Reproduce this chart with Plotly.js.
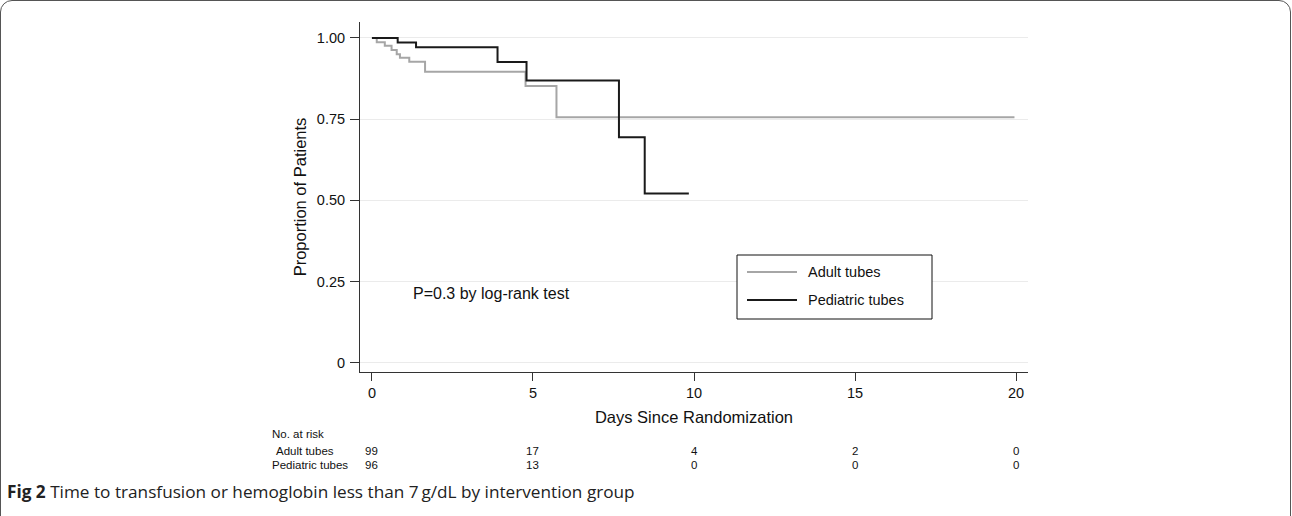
<!DOCTYPE html>
<html>
<head>
<meta charset="utf-8">
<script src="https://cdn.plot.ly/plotly-3.0.1.min.js"></script>
<style>
  html, body { margin: 0; padding: 0; background: #fff; }
  #wrap { position: relative; width: 1292px; height: 516px; overflow: hidden; }
  #chart { width: 1292px; height: 516px; }
  #frame { position: absolute; left: 0; top: 0; width: 1289px; height: 560px;
           border: 1px solid #555; border-radius: 12px; pointer-events: none; }
</style>
</head>
<body>
<div id="wrap"><div id="chart"></div><div id="frame"></div></div>
<script>
// ---- data ----
const adultTimes = [0, 0.15, 0.40, 0.61, 0.77, 0.87, 1.16, 1.65, 4.77, 5.73, 19.95];
const adultSurv  = [1.0, 0.987, 0.976, 0.963, 0.950, 0.939, 0.927, 0.896, 0.852, 0.756, 0.756];
const pedTimes   = [0, 0.80, 1.37, 3.90, 4.80, 7.67, 8.47, 9.84];
const pedSurv    = [1.0, 0.986, 0.971, 0.926, 0.869, 0.694, 0.521, 0.521];
const seriesNames = ["Adult tubes", "Pediatric tubes"];
const xTicks = [0, 5, 10, 15, 20];
const yTicks = [0, 0.25, 0.5, 0.75, 1.0];
const yTickText = ["0", "0.25", "0.50", "0.75", "1.00"];
const riskDays  = [0, 5, 10, 15, 20];
const adultRisk = [99, 17, 4, 2, 0];
const pedRisk   = [96, 13, 0, 0, 0];
const pText = "P=0.3 by log-rank test";
const caption = "<b>Fig 2</b> Time to transfusion or hemoglobin less than 7\u2009g/dL by intervention group";

// ---- layout helpers (pixel -> paper) ----
const W = 1292, H = 516;
const M = {l: 360, r: 1292 - 1028, t: 22, b: 516 - 372};
const PW = W - M.l - M.r, PH = H - M.t - M.b;
const px = v => (v - M.l) / PW;
const py = v => (H - M.b - v) / PH;

const FONT = "Liberation Sans, Arial, sans-serif";
const GRAY = "#a6a6a6", BLACK = "#1a1a1a";

const traces = [
  {x: adultTimes, y: adultSurv, name: seriesNames[0], mode: "lines",
   line: {shape: "hv", color: GRAY, width: 2}, showlegend: false, hoverinfo: "skip"},
  {x: pedTimes, y: pedSurv, name: seriesNames[1], mode: "lines",
   line: {shape: "hv", color: BLACK, width: 2}, showlegend: false, hoverinfo: "skip"}
];

const annotations = [];
const shapes = [];

// p-value text
annotations.push({x: 1.2, y: 0.215, xref: "x", yref: "y", text: pText, showarrow: false,
  xanchor: "left", yanchor: "middle", font: {family: FONT, size: 16, color: "#111"}});

// legend box (manual)
shapes.push({type: "rect", xref: "paper", yref: "paper", x0: px(737), x1: px(932), y0: py(255), y1: py(319),
  line: {color: "#111", width: 1}, fillcolor: "#fff"});
const legY = [272, 300], legCol = [GRAY, BLACK];
seriesNames.forEach((n, i) => {
  shapes.push({type: "line", xref: "paper", yref: "paper", x0: px(747), x1: px(797), y0: py(legY[i]), y1: py(legY[i]),
    line: {color: legCol[i], width: 2}});
  annotations.push({x: px(806), y: py(legY[i]), xref: "paper", yref: "paper", text: n, showarrow: false,
    xanchor: "left", yanchor: "middle", font: {family: FONT, size: 14.5, color: "#111"}});
});

// risk table
const RF = {family: FONT, size: 11.5, color: "#111"};
annotations.push({x: px(271), y: py(434), xref: "paper", yref: "paper", text: "No. at risk", showarrow: false,
  xanchor: "left", yanchor: "middle", font: RF, borderpad: 0});
const rowY = [451, 465], rowX = [275, 271];
[adultRisk, pedRisk].forEach((arr, r) => {
  annotations.push({x: px(rowX[r]), y: py(rowY[r]), xref: "paper", yref: "paper", text: seriesNames[r], showarrow: false,
    xanchor: "left", yanchor: "middle", font: RF, borderpad: 0});
  arr.forEach((v, i) => {
    annotations.push({x: riskDays[i], y: py(rowY[r]), xref: "x", yref: "paper", text: String(v), showarrow: false,
      xanchor: "center", yanchor: "middle", font: RF, borderpad: 0});
  });
});

// caption
annotations.push({x: px(5), y: py(491), xref: "paper", yref: "paper", text: caption, showarrow: false,
  xanchor: "left", yanchor: "middle", font: {family: "Open Sans, Noto Sans, sans-serif", size: 17.2, color: "#222"}});

const layout = {
  width: W, height: H,
  margin: M,
  paper_bgcolor: "#fff", plot_bgcolor: "#fff",
  showlegend: false,
  xaxis: {
    range: [-0.37, 20.37], tickvals: xTicks, ticks: "outside", ticklen: 8, tickcolor: "#333",
    showline: true, linecolor: "#333", linewidth: 1, showgrid: false, zeroline: false,
    tickfont: {family: FONT, size: 14.5, color: "#111"},
    title: {text: "Days Since Randomization", font: {family: FONT, size: 16.5, color: "#111"}, standoff: 11},
    automargin: false
  },
  yaxis: {
    range: [-0.028, 1.049], tickvals: yTicks, ticktext: yTickText, ticks: "outside", ticklen: 9, tickcolor: "#333",
    showline: true, linecolor: "#333", linewidth: 1, showgrid: true, gridcolor: "#ebebeb", gridwidth: 1, zeroline: false,
    tickfont: {family: FONT, size: 14.5, color: "#111"}, ticklabelstandoff: 2,
    title: {text: "Proportion of Patients", font: {family: FONT, size: 16.5, color: "#111"}, standoff: 6},
    automargin: false
  },
  shapes: shapes,
  annotations: annotations
};

Plotly.newPlot("chart", traces, layout, {displayModeBar: false, staticPlot: true});
</script>
</body>
</html>
